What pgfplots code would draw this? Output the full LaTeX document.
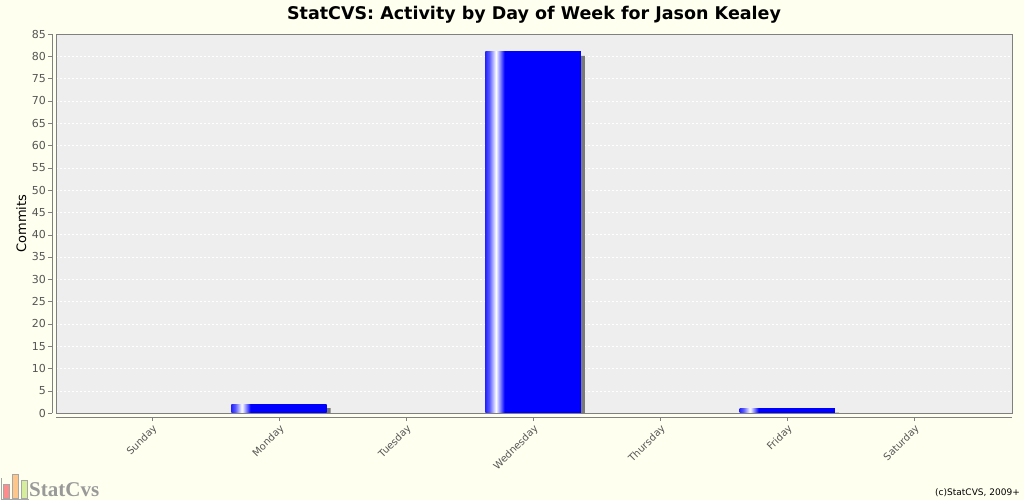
\documentclass[border=0pt]{standalone}
\usepackage{fontspec}
\setmainfont{DejaVu Sans}
\newfontfamily\markfont{Liberation Serif}
\usepackage{pgfplots}
\pgfplotsset{compat=1.18}
\definecolor{pagebg}{HTML}{FFFFF0}
\definecolor{plotbg}{HTML}{EEEEEE}
\definecolor{axisgray}{HTML}{808080}
\definecolor{ticktext}{HTML}{555555}
\definecolor{barblue}{HTML}{0000FF}
\definecolor{shadowgray}{HTML}{7A7A7A}
% bar gradient: light stripe near the left edge (25bp..75bp = bar width)
\pgfdeclarehorizontalshading{barshade}{100bp}{%
  color(0bp)=(barblue!85!white); color(25bp)=(barblue!85!white);
  color(27bp)=(barblue!65!white); color(30.5bp)=(white);
  color(33bp)=(barblue!55!white); color(35bp)=(barblue);
  color(100bp)=(barblue)}

\begin{document}
\begin{tikzpicture}
\fill[pagebg] (0,0) rectangle (1024bp,500bp);
\begin{axis}[
  at={(56bp,87bp)}, anchor=south west,
  scale only axis,
  width=956bp, height=379bp,
  xmin=-0.756, xmax=6.77,
  ymin=0, ymax=85,
  axis lines*=left,
  axis x line shift=4bp,
  axis y line shift=4bp,
  axis line style={axisgray, -},
  axis background/.style={fill=plotbg},
  after end axis/.code={\draw[axisgray] (rel axis cs:0,0) rectangle (rel axis cs:1,1);},
  xtick={0,1,2,3,4,5,6},
  xticklabels={Sunday,Monday,Tuesday,Wednesday,Thursday,Friday,Saturday},
  ytick={0,5,...,85},
  /pgf/number format/assume math mode=true,
  tick align=outside,
  major tick length=4bp,
  tick style={axisgray},
  ymajorgrids,
  major grid style={white, dash pattern=on 2bp off 2bp},
  yticklabel style={font=\fontsize{11bp}{13bp}\selectfont, text=ticktext, inner sep=2bp},
  xticklabel style={font=\fontsize{10bp}{12bp}\selectfont, text=ticktext, rotate=45, anchor=north east, inner sep=2bp},
  ylabel={Commits},
  ylabel style={font=\fontsize{13bp}{15bp}\selectfont},
  title={StatCVS: Activity by Day of Week for Jason Kealey},
  title style={font=\bfseries\fontsize{17.5bp}{20bp}\selectfont, at={(0.5,1)}, yshift=1bp},
  bar width=0.75,
  clip=false,
]
% shadows
\addplot[ybar, bar shift=4bp, fill=shadowgray, draw=none]
  coordinates {(1,1.1) (3,80.1) (5,0.1)};
% bars, one plot each so that every bar gets its own gradient
\addplot[ybar, bar shift=0pt, shading=barshade, draw=none] coordinates {(1,2)};
\addplot[ybar, bar shift=0pt, shading=barshade, draw=none] coordinates {(3,81)};
\addplot[ybar, bar shift=0pt, shading=barshade, draw=none] coordinates {(5,1)};
\end{axis}
% StatCvs mark bottom left
\begin{scope}
  \fill[red!45, draw=gray!70] (3bp,2bp) rectangle (9bp,16bp);
  \fill[orange!45, draw=gray!70] (12bp,2bp) rectangle (18bp,26bp);
  \fill[yellow!60!green!40, draw=gray!70] (21bp,2bp) rectangle (27bp,20bp);
  \draw[gray!70] (1bp,1bp) -- (1bp,22bp);
  \draw[gray!70] (1bp,1bp) -- (29bp,1bp);
\end{scope}
\node[anchor=base west, inner sep=0pt, text=gray!80] at (29bp,4bp)
  {\markfont\bfseries\fontsize{21bp}{23bp}\selectfont StatCvs};
\node[anchor=base east, inner sep=0pt] at (1020bp,5bp)
  {\fontsize{9bp}{11bp}\selectfont (c)StatCVS, 2009+};
\pgfresetboundingbox
\useasboundingbox (0,0) rectangle (1024bp,500bp);
\end{tikzpicture}
\end{document}
